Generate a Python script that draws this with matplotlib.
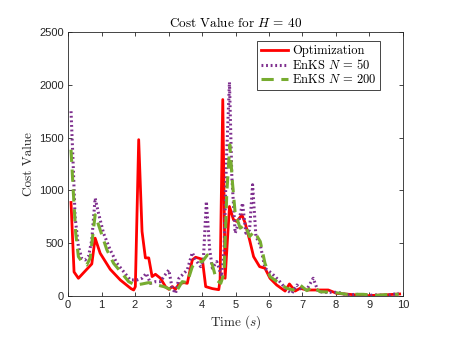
import matplotlib
matplotlib.use("Agg")
import matplotlib.pyplot as plt
import numpy as np

# Optimization (red)
t_opt = [0.09, 0.18, 0.31, 0.71, 0.81, 0.96, 1.26, 1.56, 1.88, 1.96, 2.01, 2.11, 2.21,
         2.31, 2.41, 2.51, 2.61, 2.76, 2.91, 3.01, 3.11, 3.21, 3.31, 3.46, 3.56, 3.71,
         3.81, 4.01, 4.11, 4.31, 4.50, 4.54, 4.62, 4.69, 4.82, 4.94, 5.04, 5.19, 5.29,
         5.42, 5.54, 5.72, 5.88, 6.03, 6.23, 6.48, 6.61, 6.78, 6.93, 7.13, 7.77, 8.02,
         8.91, 9.41, 9.90]
c_opt = [886, 228, 168, 304, 548, 405, 253, 152, 70, 57, 89, 1481, 611,
         361, 361, 184, 206, 168, 89, 63, 89, 63, 114, 127, 120, 342,
         367, 348, 89, 70, 60, 152, 1861, 168, 848, 722, 706, 769, 690,
         532, 373, 278, 263, 168, 104, 47, 114, 47, 73, 57, 57, 25,
         3, 10, 19]

# EnKS N = 50 (purple dotted)
t_50 = [0.09, 0.16, 0.21, 0.31, 0.41, 0.51, 0.61, 0.71, 0.81, 0.91, 1.06, 1.26, 1.46,
        1.66, 1.86, 2.06, 2.21, 2.34, 2.46, 2.61, 2.76, 2.86, 3.01, 3.11, 3.21, 3.31,
        3.41, 3.56, 3.71, 3.81, 3.96, 4.04, 4.13, 4.23, 4.31, 4.44, 4.51, 4.58, 4.66,
        4.73, 4.82, 4.89, 4.99, 5.09, 5.21, 5.31, 5.42, 5.51, 5.61, 5.74, 5.88, 6.08,
        6.28, 6.53, 6.68, 6.83, 6.98, 7.15, 7.32, 7.47, 7.72, 8.07, 8.32, 8.61, 8.91,
        9.21, 9.51, 9.87]
c_50 = [1750, 1196, 753, 468, 358, 342, 373, 532, 927, 785, 595, 437, 310,
        231, 152, 152, 168, 215, 120, 136, 136, 184, 247, 73, 25, 168,
        199, 247, 411, 342, 278, 342, 896, 437, 263, 326, 263, 184, 437,
        1291, 2025, 1133, 595, 690, 880, 595, 627, 1054, 563, 484, 263, 215,
        152, 57, 25, 104, 57, 73, 168, 41, 35, 35, 10, 16, 6,
        10, 6, 25]

# EnKS N = 200 (green dashed)
t_200 = [0.09, 0.16, 0.23, 0.31, 0.41, 0.56, 0.66, 0.81, 0.96, 1.16, 1.36, 1.61, 1.81,
         2.01, 2.21, 2.41, 2.66, 2.86, 3.06, 3.26, 3.41, 3.56, 3.71, 3.86, 4.01, 4.16,
         4.31, 4.43, 4.56, 4.66, 4.74, 4.83, 4.91, 4.99, 5.14, 5.29, 5.42, 5.56, 5.74,
         5.88, 6.03, 6.28, 6.53, 6.72, 6.93, 7.13, 7.32, 7.52, 7.92, 8.32, 8.81, 9.21,
         9.61, 9.87]
c_200 = [1386, 975, 595, 373, 326, 294, 358, 769, 627, 437, 310, 215, 136,
         104, 114, 127, 104, 89, 63, 57, 136, 127, 278, 326, 326, 389,
         294, 152, 120, 215, 975, 1434, 1070, 785, 643, 674, 563, 611, 516,
         310, 184, 127, 73, 57, 104, 51, 89, 41, 35, 16, 16, 6,
         16, 16]

plt.rcParams['mathtext.fontset'] = 'cm'
plt.rcParams['font.family'] = ['Liberation Sans', 'DejaVu Sans']
gray = (0.15, 0.15, 0.15)

fig = plt.figure(figsize=(4.71, 3.45), dpi=100)
ax = fig.add_axes([0.1444, 0.142, 0.7112, 0.765])

ax.plot(t_opt, c_opt, color=(1, 0, 0), lw=2.0, label='Optimization')
ax.plot(t_50, c_50, color=(0.494, 0.184, 0.556), lw=2.2, ls=(0, (0.6, 0.9)),
        label=r'EnKS $N\,=\,50$')
ax.plot(t_200, c_200, color=(0.466, 0.674, 0.188), lw=2.2, ls=(0, (4, 2.5)),
        label=r'EnKS $N\,=\,200$')

ax.set_xlim(0, 10)
ax.set_ylim(0, 2500)
ax.set_xticks(np.arange(0, 11, 1))
ax.set_yticks(np.arange(0, 2501, 500))
ax.tick_params(direction='in', length=3, width=0.6, top=True, right=True,
               labelsize=8, colors=gray, pad=3)
for s in ax.spines.values():
    s.set_color(gray)
    s.set_linewidth(0.6)

ax.set_title(r'Cost Value for $H\,=\,40$', fontsize=9.5, family='cmr10', color='black', pad=4)
ax.set_xlabel(r'Time ($s$)', fontsize=9.5, family='cmr10', color=gray, labelpad=2)
ax.set_ylabel('Cost Value', fontsize=9.5, family='cmr10', color=gray, labelpad=3)

leg = ax.legend(loc='upper right', bbox_to_anchor=(0.931, 0.966),
                prop={'family': 'cmr10', 'size': 9}, fancybox=False, framealpha=1,
                edgecolor=gray, borderpad=0.3, labelspacing=0.1, handlelength=2.2,
                handletextpad=0.3, borderaxespad=0)
leg.get_frame().set_linewidth(0.6)

fig.savefig('out.png', dpi=100)
